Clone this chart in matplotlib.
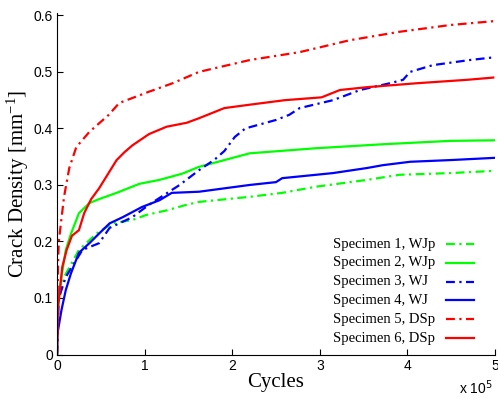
import matplotlib

matplotlib.use("Agg")
import matplotlib.pyplot as plt  # noqa: E402

plt.rcParams["mathtext.fontset"] = "custom"
plt.rcParams["mathtext.rm"] = "Liberation Serif"
plt.rcParams["mathtext.it"] = "Liberation Serif:italic"

# cycles in units of 1e5, crack density in 1/mm
s1_x = [0, 0.005, 0.08, 0.25, 0.45, 0.63, 0.86, 1.02, 1.25, 1.48, 1.62, 2.2, 2.57, 2.96, 3.54, 3.91, 4.49, 5.0]
s1_y = [0, 0.085, 0.137, 0.185, 0.214, 0.232, 0.238, 0.247, 0.255, 0.265, 0.27, 0.279, 0.286, 0.297, 0.309, 0.318, 0.321, 0.325]

s2_x = [0, 0.005, 0.05, 0.1, 0.16, 0.25, 0.37, 0.48, 0.68, 0.94, 1.17, 1.43, 1.62, 2.2, 2.96, 3.72, 4.49, 5.0]
s2_y = [0, 0.08, 0.137, 0.185, 0.214, 0.25, 0.268, 0.275, 0.286, 0.302, 0.309, 0.32, 0.332, 0.356, 0.365, 0.372, 0.378, 0.379]

s3_x = [0, 0.02, 0.1, 0.17, 0.29, 0.48, 0.6, 0.86, 1.05, 1.4, 1.62, 1.8, 1.91, 2.03, 2.15, 2.5, 2.65, 2.77,
        3.15, 3.46, 3.8, 3.95, 4.03, 4.29, 4.57, 4.71, 5.0]
s3_y = [0, 0.1, 0.137, 0.155, 0.185, 0.197, 0.224, 0.243, 0.265, 0.3, 0.326, 0.345, 0.36, 0.385, 0.4, 0.415, 0.424,
        0.436, 0.45, 0.468, 0.48, 0.486, 0.5, 0.512, 0.518, 0.521, 0.526]

s4_x = [0, 0.005, 0.05, 0.1, 0.16, 0.25, 0.37, 0.48, 0.6, 0.75, 0.97, 1.17, 1.31, 1.62, 2.2, 2.5, 2.57, 3.15,
        3.54, 3.72, 4.03, 4.49, 5.0]
s4_y = [0, 0.037, 0.078, 0.114, 0.144, 0.18, 0.197, 0.214, 0.232, 0.243, 0.261, 0.273, 0.286, 0.288, 0.3, 0.305,
        0.312, 0.321, 0.33, 0.335, 0.341, 0.344, 0.348]

s5_x = [0, 0.01, 0.02, 0.08, 0.14, 0.22, 0.37, 0.59, 0.71, 1.05, 1.32, 1.62, 2.2, 2.77, 3.34, 3.91, 4.49, 5.0]
s5_y = [0, 0.15, 0.2, 0.279, 0.33, 0.367, 0.394, 0.424, 0.445, 0.465, 0.48, 0.5, 0.521, 0.535, 0.556, 0.571,
        0.583, 0.59]

s6_x = [0, 0.01, 0.06, 0.11, 0.17, 0.25, 0.31, 0.39, 0.48, 0.68, 0.77, 0.86, 1.05, 1.25, 1.48, 1.62, 1.91, 2.2,
        2.6, 3.02, 3.23, 3.54, 4.11, 4.68, 4.98]
s6_y = [0, 0.08, 0.155, 0.185, 0.21, 0.22, 0.25, 0.275, 0.294, 0.344, 0.358, 0.37, 0.39, 0.403, 0.41, 0.418,
        0.436, 0.442, 0.45, 0.455, 0.468, 0.473, 0.48, 0.486, 0.49]

labels = ["Specimen 1, WJp", "Specimen 2, WJp", "Specimen 3, WJ",
          "Specimen 4, WJ", "Specimen 5, DSp", "Specimen 6, DSp"]

dashdot = (0, (4, 2, 1, 2))
series = [
    (s1_x, s1_y, "#00ff00", dashdot),
    (s2_x, s2_y, "#00ff00", "-"),
    (s3_x, s3_y, "#0000ff", dashdot),
    (s4_x, s4_y, "#0000ff", "-"),
    (s5_x, s5_y, "#ff0000", dashdot),
    (s6_x, s6_y, "#ff0000", "-"),
]

fig = plt.figure(figsize=(4.98, 3.99), dpi=100)
ax = fig.add_axes([0.1145, 0.1115, 0.8795, 0.857])

# legend drawn by hand: MATLAB style, left-aligned text, key line on the right
leg_y0 = 0.323
leg_dy = 0.055
for i, ((x, y, color, ls), lab) in enumerate(zip(series, labels)):
    ax.plot(x, y, color=color, linestyle=ls, linewidth=1.6)
    yy = leg_y0 - i * leg_dy
    ax.plot([0.888, 0.952], [yy, yy], color=color, linestyle=ls, linewidth=1.6,
            transform=ax.transAxes, clip_on=False)
    ax.text(0.630, yy, lab, transform=ax.transAxes, ha="left", va="center",
            family="Liberation Serif", fontsize=10.5)

ax.set_xlim(0, 5)
ax.set_ylim(0, 0.605)
ax.set_xticks([0, 1, 2, 3, 4, 5])
ax.set_xticklabels(["0", "1", "2", "3", "4", "5"])
ax.set_yticks([0, 0.1, 0.2, 0.3, 0.4, 0.5, 0.6])
ax.set_yticklabels(["0", "0.1", "0.2", "0.3", "0.4", "0.5", "0.6"])
ax.tick_params(direction="in", length=4, labelsize=10, pad=3)
for lbl in ax.get_xticklabels() + ax.get_yticklabels():
    lbl.set_family("Liberation Sans")
ax.spines["top"].set_visible(False)
ax.spines["right"].set_visible(False)

ax.set_xlabel("Cycles", family="Liberation Serif", fontsize=15, labelpad=0)
ax.set_ylabel("Crack Density [mm$^{-1}$]", family="Liberation Serif", fontsize=15, labelpad=2)

fig.text(0.99, 0.005, "x 10$^5$", family="Liberation Sans", fontsize=10, ha="right", va="bottom",
         math_fontfamily="dejavusans")

fig.savefig("out.png", dpi=100)
